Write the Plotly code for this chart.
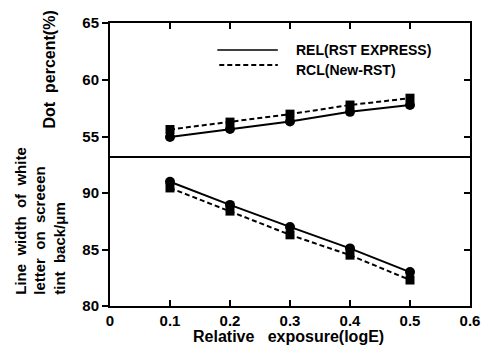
import plotly.graph_objects as go

# Data
exposure = [0.1, 0.2, 0.3, 0.4, 0.5]
dot_rel = [55.0, 55.7, 56.35, 57.2, 57.8]
dot_rcl = [55.65, 56.3, 57.0, 57.8, 58.4]
lw_rel = [91.0, 88.95, 87.0, 85.1, 83.0]
lw_rcl = [90.45, 88.4, 86.3, 84.5, 82.3]

x_ticks = [0, 0.1, 0.2, 0.3, 0.4, 0.5, 0.6]
x_ticktext = ["0", "0.1", "0.2", "0.3", "0.4", "0.5", "0.6"]
top_ticks = [55, 60, 65]
bot_ticks = [80, 85, 90]

legend_names = ["REL(RST EXPRESS)", "RCL(New-RST)"]

FONT = "Liberation Sans, Arial, sans-serif"
BLK = "black"

fig = go.Figure()

# top panel (y2)
fig.add_trace(go.Scatter(x=exposure, y=dot_rel, xaxis="x2", yaxis="y2", mode="lines+markers",
                         line=dict(color=BLK, width=2), marker=dict(symbol="circle", size=10, color=BLK),
                         showlegend=False))
fig.add_trace(go.Scatter(x=exposure, y=dot_rcl, xaxis="x2", yaxis="y2", mode="lines+markers",
                         line=dict(color=BLK, width=2, dash="5px,3px"), marker=dict(symbol="square", size=9, color=BLK),
                         showlegend=False))
# bottom panel (y)
fig.add_trace(go.Scatter(x=exposure, y=lw_rel, xaxis="x", yaxis="y", mode="lines+markers",
                         line=dict(color=BLK, width=2), marker=dict(symbol="circle", size=10, color=BLK),
                         showlegend=False))
fig.add_trace(go.Scatter(x=exposure, y=lw_rcl, xaxis="x", yaxis="y", mode="lines+markers",
                         line=dict(color=BLK, width=2, dash="5px,3px"), marker=dict(symbol="square", size=9, color=BLK),
                         showlegend=False))

split = 148 / 283

axis_common = dict(showgrid=False, zeroline=False, linecolor=BLK, tickcolor=BLK,
                   tickfont=dict(family=FONT, size=15, color=BLK, weight="bold"))

fig.update_layout(
    width=492, height=346,
    margin=dict(l=110, r=13, t=23, b=40),
    paper_bgcolor="white", plot_bgcolor="white",
    xaxis=dict(**axis_common, domain=[0, 1], anchor="y", range=[0, 0.6],
               tickvals=x_ticks, ticktext=x_ticktext, ticks="inside", ticklen=6, tickwidth=1.5,
               showline=True, linewidth=2, mirror=True),
    xaxis2=dict(**axis_common, domain=[0, 1], anchor="y2", range=[0, 0.6], matches="x",
                tickvals=x_ticks[1:-1], showticklabels=False, ticks="inside", ticklen=6, tickwidth=1.5,
                side="top", showline=True, linewidth=2),
    yaxis=dict(**axis_common, domain=[0, split], anchor="x", range=[80, 93.1],
               tickvals=bot_ticks, ticks="outside", ticklen=6, tickwidth=1.5,
               showline=True, linewidth=2),
    yaxis2=dict(**axis_common, domain=[split, 1], anchor="x2", range=[53.15, 65],
                tickvals=top_ticks, ticks="outside", ticklen=6, tickwidth=1.5,
                showline=True, linewidth=2),
    yaxis3=dict(**axis_common, domain=[0, split], anchor="x", overlaying="y", side="right",
                range=[80, 93.1], tickvals=bot_ticks[1:], showticklabels=False,
                ticks="inside", ticklen=6, tickwidth=1.5, showline=True, linewidth=2),
    yaxis4=dict(**axis_common, domain=[split, 1], anchor="x2", overlaying="y2", side="right",
                range=[53.15, 65], tickvals=top_ticks[:-1], showticklabels=False,
                ticks="inside", ticklen=6, tickwidth=1.5, showline=True, linewidth=2),
)

# dummy traces to activate right-side axes
fig.add_trace(go.Scatter(x=[None], y=[None], xaxis="x", yaxis="y3", showlegend=False, hoverinfo="skip"))
fig.add_trace(go.Scatter(x=[None], y=[None], xaxis="x2", yaxis="y4", showlegend=False, hoverinfo="skip"))

def px_x(px):
    return (px - 110) / 369

def px_y(py):
    return (306 - py) / 283

# legend drawn as layout decoration
fig.add_shape(type="line", xref="paper", yref="paper", x0=px_x(220), x1=px_x(282), y0=px_y(50), y1=px_y(50),
              line=dict(color=BLK, width=1.5))
fig.add_shape(type="line", xref="paper", yref="paper", x0=px_x(222), x1=px_x(282), y0=px_y(65), y1=px_y(65),
              line=dict(color=BLK, width=2, dash="5px,3px"))
fig.add_annotation(text="<b>" + legend_names[0] + "</b>", xref="paper", yref="paper", x=px_x(299), y=px_y(50),
                   xanchor="left", yanchor="middle", showarrow=False,
                   font=dict(family=FONT, size=14, color=BLK))
fig.add_annotation(text="<b>" + legend_names[1] + "</b>", xref="paper", yref="paper", x=px_x(299), y=px_y(70),
                   xanchor="left", yanchor="middle", showarrow=False,
                   font=dict(family=FONT, size=14, color=BLK))

# axis titles
fig.add_annotation(text="<b>Dot  percent(%)</b>", xref="paper", yref="paper", x=px_x(48), y=px_y(70),
                   xanchor="center", yanchor="middle", textangle=-90, showarrow=False,
                   font=dict(family=FONT, size=16, color=BLK))
fig.add_annotation(text="<b>Line  width  of  white<br>letter  on  screeen<br>tint  back/μm</b>",
                   xref="paper", yref="paper", x=px_x(38), y=px_y(297),
                   xanchor="center", yanchor="bottom", textangle=-90, align="left", showarrow=False,
                   font=dict(family=FONT, size=15, color=BLK))
fig.add_annotation(text="<b>Relative   exposure(logE)</b>", xref="paper", yref="paper", x=px_x(293), y=px_y(337),
                   xanchor="center", yanchor="middle", showarrow=False,
                   font=dict(family=FONT, size=16, color=BLK))

fig.write_html("out.html")
